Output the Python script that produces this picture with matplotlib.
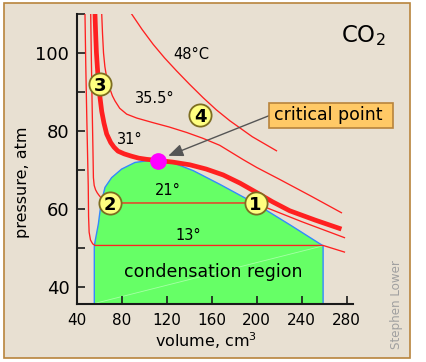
import matplotlib.pyplot as plt
from matplotlib.patches import Rectangle

# CO2 isotherms: volume (cm3) against pressure (atm)
t13_vol = [47.1, 47.8, 48.6, 49.4, 50.0, 50.3, 50.8, 52.0, 54.0, 56.0, 259.0, 278.0]
t13_p = [110, 97, 85, 74, 66, 58, 54, 52, 51, 50.6, 50.6, 48.9]

t21_vol = [52.2, 52.8, 53.5, 54.2, 54.6, 55.3, 56.5, 58.0, 59.5, 62.0, 65.0, 69.4,
           199.0, 208.6, 240.0, 278.0]
t21_p = [110, 98, 86, 75, 68, 66, 64.9, 64.1, 63.5, 62.6, 62.0, 61.5,
         61.5, 60.3, 56.7, 52.6]

t31_vol = [56.0, 56.6, 57.3, 58.2, 59.2, 60.5, 62.0, 64.0, 66.4, 70.0, 73.0, 76.5,
           82.0, 88.6, 95.0, 102.0, 112.3, 125.0, 140.4, 155.0, 170.0, 185.0,
           199.7, 214.0, 229.3, 252.0, 275.3]
t31_p = [110, 105, 100, 96, 92, 88.5, 85, 82, 79.2, 77.0, 75.8, 74.8,
         74.1, 73.5, 73.0, 72.7, 72.4, 72.0, 71.3, 70.2, 68.7, 66.6,
         64.2, 61.8, 59.5, 57.1, 54.8]

t35_vol = [62.0, 62.7, 63.6, 64.8, 66.4, 68.0, 69.4, 71.5, 73.8, 78.0, 84.2, 93.1,
           107.8, 122.0, 137.5, 152.0, 167.0, 188.0, 200.0, 220.0, 248.0, 275.3]
t35_p = [110, 105, 100, 96.5, 93.7, 92.0, 90.7, 89.0, 87.7, 85.8, 84.3, 83.3,
         82.1, 81.0, 79.6, 78.1, 76.3, 72.6, 70.6, 67.6, 63.3, 59.0]

t48_vol = [88.6, 98.0, 107.8, 118.0, 128.6, 140.0, 152.3, 164.0, 176.0, 196.0, 217.5]
t48_p = [110, 106.0, 102.2, 98.7, 95.4, 92.0, 88.5, 85.4, 82.6, 78.5, 74.9]

# liquid + vapour coexistence region
dome_vol = [55.4, 55.4, 56.0, 57.5, 59.0, 61.3, 64.9, 70.8, 79.7, 91.6, 106.4, 112.3,
            125.6, 143.4, 167.0, 183.0, 199.0, 230.0, 259.0, 259.0]
dome_p = [35, 50.3, 51.5, 53.8, 56.1, 61.2, 65.5, 68.0, 70.2, 71.9, 72.5, 72.4,
          71.8, 69.8, 66.3, 63.8, 61.3, 55.8, 50.5, 35]

crit_vol, crit_p = 112.3, 72.4

marker_labels = ['1', '2', '3', '4']
marker_vol = [199.0, 69.4, 60.5, 149.4]
marker_p = [61.4, 61.5, 92.0, 84.1]

iso_labels = ['48°C', '35.5°', '31°', '21°', '13°']
iso_label_vol = [142, 109.3, 87.0, 120.6, 139]
iso_label_p = [99.7, 88.3, 77.7, 64.6, 53.1]

W, H = 427, 362
RED = '#ff2020'

fig = plt.figure(figsize=(W / 100, H / 100), dpi=100)
fig.patch.set_facecolor('white')
fig.patches.append(Rectangle((4 / W, 4 / H), 406 / W, 355 / H, transform=fig.transFigure,
                             facecolor='#e8e0d2', edgecolor='#b8843c', lw=1.2, zorder=-1))

ax = fig.add_axes([77 / W, 58.5 / H, 276 / W, 289.5 / H])
ax.set_facecolor('none')

# green region with blue outline
ax.fill(dome_vol, dome_p, facecolor='#66ff66', edgecolor='none', zorder=1)
ax.plot(dome_vol, dome_p, color='#3388ff', lw=1.0, zorder=2)
ax.plot([dome_vol[0], dome_vol[-2]], [35.7, dome_p[-2]], color='#a6ffa6', lw=0.6, zorder=1.5)

for v, p in [(t13_vol, t13_p), (t21_vol, t21_p), (t35_vol, t35_p), (t48_vol, t48_p)]:
    ax.plot(v, p, color=RED, lw=0.95, zorder=3)
ax.plot(t31_vol, t31_p, color=RED, lw=3.4, zorder=3, solid_capstyle='butt')

ax.plot(crit_vol, crit_p, 'o', color='#ff00ff', ms=11, zorder=5)

for lab, v, p in zip(marker_labels, marker_vol, marker_p):
    ax.plot(v, p, 'o', ms=16, mfc='#ffff80', mec='#7d6e20', mew=1.3, zorder=6)
    ax.text(v, p, lab, ha='center', va='center_baseline', fontsize=13,
            fontweight='bold', zorder=7)

for lab, v, p in zip(iso_labels, iso_label_vol, iso_label_p):
    ax.text(v, p, lab, ha='center', va='center', fontsize=10.5, zorder=4)

ax.text(161.2, 43.8, 'condensation region', ha='center', va='center', fontsize=12.5, zorder=4)

ax.set_xlim(40, 285.6)
ax.set_ylim(35.7, 110)
ax.set_xticks(range(40, 281, 40))
ax.set_yticks(range(40, 111, 10))
ax.set_yticklabels(['40', '', '60', '', '80', '', '100', ''])
ax.spines[['top', 'right']].set_visible(False)
for s in ['left', 'bottom']:
    ax.spines[s].set_linewidth(1.5)
    ax.spines[s].set_color('#1a1a1a')
ax.tick_params(direction='in', length=6, width=1.2, color='#1a1a1a')
ax.tick_params(axis='y', labelsize=13, pad=5.5)
ax.tick_params(axis='x', labelsize=11, pad=6.5)

fig.text(23 / W, 1 - 182 / H, 'pressure, atm', rotation=90, ha='center', va='center', fontsize=11.5)
fig.text(206 / W, 1 - 341 / H, 'volume, cm$^3$', ha='center', va='center', fontsize=11.5)
fig.text(341 / W, 1 - 41.7 / H, 'CO$_2$', ha='left', va='baseline', fontsize=16.5)
fig.text(397 / W, 1 - 305 / H, 'Stephen Lower', rotation=90, ha='center', va='center',
         color='#a0a0a0', fontsize=8.6)

# critical point callout
fig.patches.append(Rectangle((269.3 / W, 234.3 / H), 124 / W, 25 / H, transform=fig.transFigure,
                             facecolor='#ffc966', edgecolor='#b8843c', lw=1.2, zorder=5))
fig.text(274 / W, 1 - 115.5 / H, 'critical point', ha='left', va='center', fontsize=12.5, zorder=6)
ax.annotate('', xy=(121.2, 73.6), xycoords='data', xytext=(269.5, H - 115.5),
            textcoords='figure pixels',
            arrowprops=dict(arrowstyle='-|>,head_length=0.6,head_width=0.25', color='#555555',
                            lw=1.0, mutation_scale=15, shrinkA=0, shrinkB=0))

fig.savefig('out.png', dpi=100, facecolor='white')
